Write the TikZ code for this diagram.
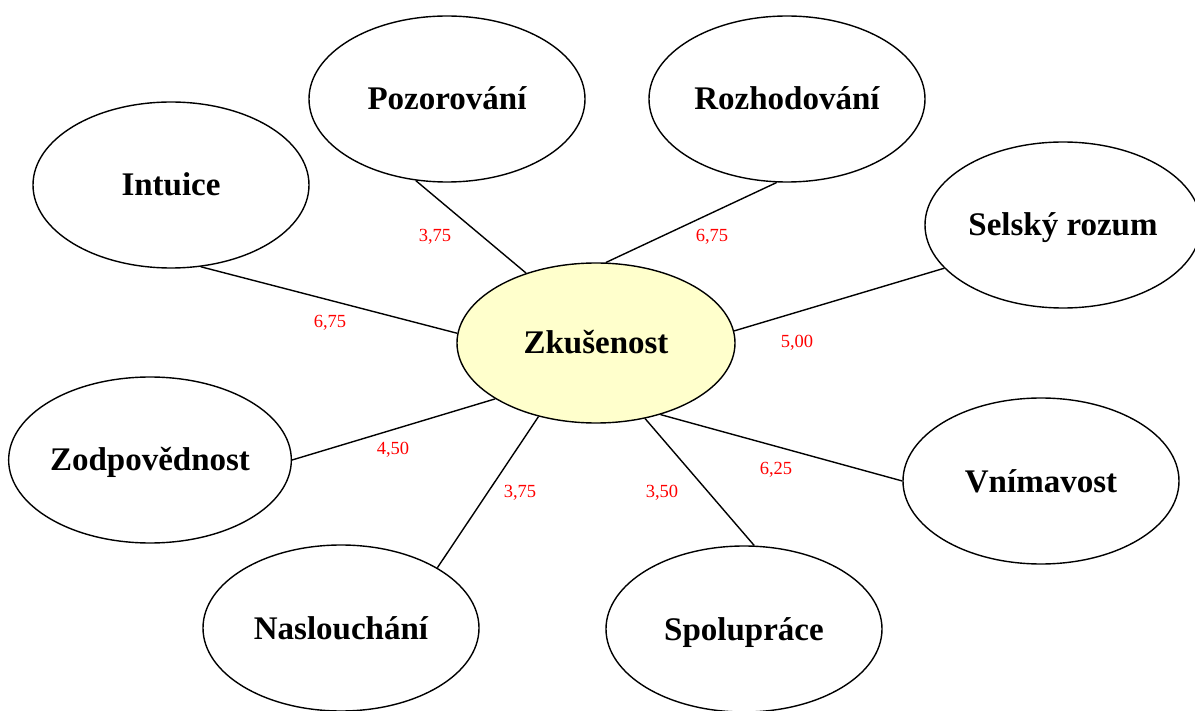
\documentclass[tikz,border=0pt]{standalone}
\usepackage{fontspec}
\setmainfont{Liberation Serif}
\usetikzlibrary{shapes.geometric}
\definecolor{hubfill}{HTML}{FFFFCC}
\definecolor{weight}{HTML}{FF0000}
\begin{document}
\begin{tikzpicture}[x=1pt,y=-1pt,
  bubble/.style={ellipse,draw=black,line width=1.4pt,fill=white,
    minimum width=276pt,minimum height=166pt,inner sep=0pt,
    text height=22pt,text depth=0pt,
    font=\fontsize{33}{40}\selectfont\bfseries},
  hub/.style={bubble,fill=hubfill,minimum width=278pt,minimum height=160pt},
  link/.style={draw=black,line width=1.4pt},
  wlabel/.style={text=weight,font=\fontsize{18.5}{22}\selectfont,inner sep=0pt}]
\useasboundingbox (0,0) rectangle (1195,711);

\node[hub] (zk) at (596,343) {Zkušenost};
\node[bubble] (poz) at (447,99) {Pozorování};
\node[bubble] (roz) at (787,99) {Rozhodování};
\node[bubble] (int) at (171,185) {Intuice};
\node[bubble] (sel) at (1063,225) {Selský rozum};
\node[bubble] (zod) at (150,460) {Zodpovědnost};
\node[bubble] (vni) at (1041,481) {Vnímavost};
\node[bubble] (nas) at (341,628) {Naslouchání};
\node[bubble] (spo) at (744,629) {Spolupráce};

% spokes from the hub
\draw[link] (poz.249) -- (zk.135);
\draw[link] (roz.263) -- (zk.83);
\draw[link] (int.290) -- (zk.176);
\draw[link] (sel.200) -- (zk.5);
\draw[link] (zod.0) -- (zk.209);
\draw[link] (nas.32) -- (zk.232);
\draw[link] (spo.83) -- (zk.303);
\draw[link] (vni.180) -- (zk.312);

% weights
\node[wlabel] (w1) at (435,237) {3,75};
\node[wlabel] (w2) at (712,237) {6,75};
\node[wlabel] (w3) at (330,323) {6,75};
\node[wlabel] (w4) at (797,343) {5,00};
\node[wlabel] (w5) at (393,450) {4,50};
\node[wlabel] (w6) at (520,493) {3,75};
\node[wlabel] (w7) at (662,493) {3,50};
\node[wlabel] (w8) at (776,470) {6,25};
\end{tikzpicture}
\end{document}
